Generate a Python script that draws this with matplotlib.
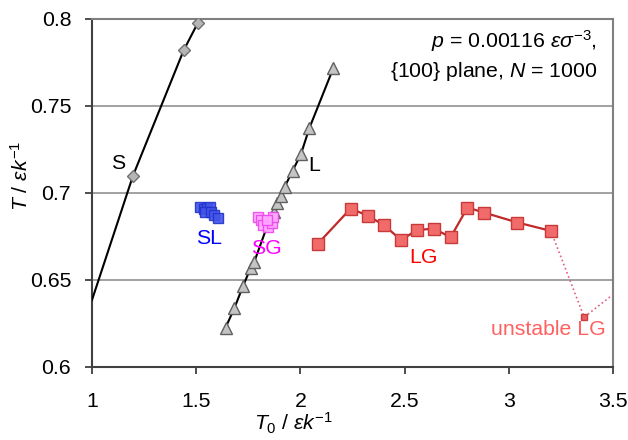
import matplotlib
matplotlib.use('Agg')
from matplotlib import pyplot as plt

plt.rcParams['font.family'] = ['Liberation Sans', 'DejaVu Sans']
plt.rcParams['mathtext.fontset'] = 'custom'
plt.rcParams['mathtext.rm'] = 'Liberation Sans'
plt.rcParams['mathtext.it'] = 'Liberation Sans:italic'
plt.rcParams['mathtext.bf'] = 'Liberation Sans:bold'

# solid line S (first point is only where the line leaves the frame)
s_t0 = [1.0, 1.197, 1.44, 1.507]
s_t = [0.6385, 0.710, 0.782, 0.7975]

# liquid line L
l_t0 = [1.641, 1.683, 1.725, 1.761, 1.779, 1.85, 1.872, 1.886, 1.907, 1.925,
        1.963, 2.003, 2.043, 2.158]
l_t = [0.6226, 0.6337, 0.6466, 0.6567, 0.6605, 0.684, 0.689, 0.694, 0.698,
       0.7036, 0.7128, 0.7224, 0.7372, 0.7717]

# SL cluster
sl_t0 = [1.518, 1.537, 1.552, 1.566, 1.542, 1.571, 1.585, 1.605]
sl_t = [0.692, 0.691, 0.6914, 0.692, 0.689, 0.689, 0.6874, 0.6856]

# SG cluster
sg_t0 = [1.798, 1.810, 1.822, 1.846, 1.862, 1.870, 1.838]
sg_t = [0.6864, 0.6845, 0.6816, 0.6806, 0.6826, 0.6864, 0.6845]

# LG
lg_t0 = [2.083, 2.241, 2.323, 2.402, 2.483, 2.561, 2.641, 2.721, 2.802,
         2.882, 3.042, 3.202]
lg_t = [0.6707, 0.691, 0.687, 0.6814, 0.673, 0.6787, 0.6795, 0.6745, 0.6916,
        0.6887, 0.683, 0.6782]

# unstable LG (last point lies outside the frame)
ulg_t0 = [3.202, 3.362, 3.60]
ulg_t = [0.6782, 0.6286, 0.651]

fs = 15.3

fig, ax = plt.subplots(figsize=(6.28, 4.4), dpi=100)
fig.subplots_adjust(left=0.1465, right=0.976, top=0.957, bottom=0.166)

ax.set_xlim(1, 3.5)
ax.set_ylim(0.6, 0.8)
ax.set_xticks([1, 1.5, 2, 2.5, 3, 3.5])
ax.set_xticklabels(['1', '1.5', '2', '2.5', '3', '3.5'])
ax.set_yticks([0.6, 0.65, 0.7, 0.75, 0.8])
ax.set_yticklabels(['0.6', '0.65', '0.7', '0.75', '0.8'])

for yv in [0.65, 0.7, 0.75]:
    ax.axhline(yv, color='#9a9a9a', lw=1.3, zorder=0)

ax.plot(s_t0, s_t, color='black', lw=1.5, marker='D', ms=6,
        mfc='#b5b5b5', mec='#707070', markevery=[1, 2, 3], zorder=3)
ax.plot(l_t0, l_t, color='black', lw=1.5, marker='^', ms=8,
        mfc='#c4c4c4', mec='#606060', zorder=3)
ax.plot(sl_t0, sl_t, ls='none', marker='s', ms=7,
        mfc='#4455e8', mec='#2233cc', alpha=0.9, zorder=4)
ax.plot(sg_t0, sg_t, ls='none', marker='s', ms=7,
        mfc='#ffaaff', mec='#ee44ee', alpha=0.9, zorder=4)
ax.plot(ulg_t0, ulg_t, color='#e2607a', lw=1.2, ls=':', marker='s', ms=5,
        mfc='#ee6060', mec='#c84040', markevery=[1], zorder=3)
ax.plot(lg_t0, lg_t, color='#c0282a', lw=1.6, marker='s', ms=8,
        mfc='#f26b6b', mec='#c83a3a', zorder=4)

ax.text(1.125, 0.717, 'S', fontsize=fs, ha='center', va='center')
ax.text(2.065, 0.716, 'L', fontsize=fs, ha='center', va='center')
ax.text(1.56, 0.674, 'SL', fontsize=fs, color='#0000ff', ha='center', va='center')
ax.text(1.835, 0.668, 'SG', fontsize=fs, color='#ff00ff', ha='center', va='center')
ax.text(2.59, 0.663, 'LG', fontsize=fs, color='#ff0000', ha='center', va='center')
ax.text(3.19, 0.6215, 'unstable LG', fontsize=fs, color='#ff6060',
        ha='center', va='center')

ax.text(0.97, 0.935, r'$p$ = 0.00116 $\varepsilon\sigma^{-3}$,', transform=ax.transAxes,
        fontsize=fs, ha='right', va='center')
ax.text(0.97, 0.85, r'{100} plane, $N$ = 1000', transform=ax.transAxes,
        fontsize=fs, ha='right', va='center')

ax.set_xlabel(r'$T_0$ / $\varepsilon k^{-1}$', fontsize=fs)
ax.xaxis.set_label_coords(0.386, -0.125)
ax.set_ylabel(r'$T$ / $\varepsilon k^{-1}$', fontsize=fs)
ax.yaxis.set_label_coords(-0.115, 0.55)

ax.tick_params(axis='both', direction='out', length=5, width=1.3,
               labelsize=fs, color='#404040')
ax.tick_params(axis='x', pad=13)
ax.tick_params(axis='y', pad=10)

for side in ['left', 'bottom']:
    ax.spines[side].set_color('#404040')
    ax.spines[side].set_linewidth(1.5)
for side in ['top', 'right']:
    ax.spines[side].set_color('#808080')
    ax.spines[side].set_linewidth(1.5)

fig.savefig('out.png', dpi=100)
